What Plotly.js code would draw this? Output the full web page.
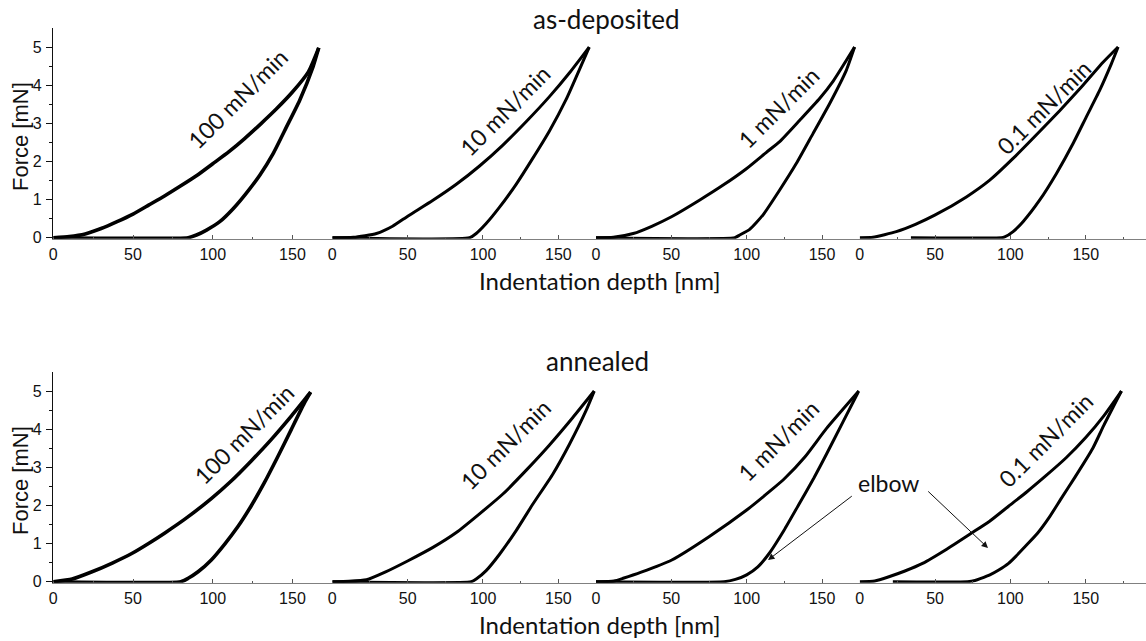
<!DOCTYPE html>
<html>
<head>
<meta charset="utf-8">
<script src="https://cdn.plot.ly/plotly-3.0.1.min.js"></script>
<style>html,body{margin:0;padding:0;background:#fff;}#chart{width:1146px;height:641px;}</style>
</head>
<body>
<div id="chart"></div>
<script>
// ---------- DATA (depth in nm, force in mN) ----------
const rowTitles = ['as-deposited', 'annealed'];
const rateLabels = ['100 mN/min', '10 mN/min', '1 mN/min', '0.1 mN/min'];
const xTickVals = [0, 50, 100, 150];
const yTickVals = [0, 1, 2, 3, 4, 5];

// as-deposited
const asdep100_loadDepth   = [0, 10, 20, 30, 40, 50, 60, 70, 80, 90, 100, 110, 120, 130, 140, 150, 160, 166.5];
const asdep100_loadForce   = [0, 0.03, 0.1, 0.24, 0.42, 0.62, 0.86, 1.1, 1.36, 1.63, 1.94, 2.25, 2.6, 2.98, 3.38, 3.82, 4.35, 4.98];
const asdep100_unloadDepth = [166.5, 162.9, 154.5, 146.2, 137.8, 129.5, 121.1, 112.8, 104.4, 96.1, 89.8, 84.6, 0];
const asdep100_unloadForce = [4.98, 4.48, 3.6, 2.9, 2.2, 1.64, 1.17, 0.76, 0.42, 0.2, 0.07, 0, 0];

const asdep10_loadDepth    = [0, 14, 29.3, 40, 50.3, 66.8, 82.3, 97.7, 113.2, 128.6, 144.1, 157.3, 170.5];
const asdep10_loadForce    = [0, 0.01, 0.11, 0.3, 0.57, 0.98, 1.4, 1.88, 2.43, 3.04, 3.7, 4.32, 5.0];
const asdep10_unloadDepth  = [170.5, 166.1, 155.1, 144.1, 133, 122, 111, 102.1, 95.5, 91.1, 0];
const asdep10_unloadForce  = [5.0, 4.6, 3.62, 2.8, 2.08, 1.4, 0.8, 0.37, 0.11, 0, 0];

const asdep1_loadDepth     = [0, 11.5, 24.7, 37, 50.1, 68.9, 84.4, 99.8, 113.1, 121.9, 135.2, 148.4, 157.3, 171.6];
const asdep1_loadForce     = [0, 0.01, 0.11, 0.3, 0.55, 0.99, 1.38, 1.81, 2.24, 2.52, 3.08, 3.65, 4.1, 5.0];
const asdep1_unloadDepth   = [171.6, 166.1, 155.1, 144, 133, 121.9, 110.9, 102, 95.4, 92.1, 0];
const asdep1_unloadForce   = [5.0, 4.39, 3.52, 2.73, 1.95, 1.25, 0.6, 0.22, 0.07, 0, 0];

const asdep01_loadDepth    = [0, 8.8, 24.3, 37, 49.8, 70.8, 86.3, 101.8, 117.3, 132.7, 148.2, 161.5, 171.5];
const asdep01_loadForce    = [0, 0.01, 0.16, 0.35, 0.59, 1.07, 1.51, 2.08, 2.7, 3.33, 4.0, 4.6, 5.0];
const asdep01_unloadDepth  = [171.5, 167, 159.3, 150.4, 141.6, 130.5, 119.5, 108.4, 101.8, 96.2, 94, 34];
const asdep01_unloadForce  = [5.0, 4.56, 3.87, 3.17, 2.47, 1.68, 0.99, 0.42, 0.16, 0.02, 0, 0];

// annealed
const ann100_loadDepth     = [0, 11.8, 24.3, 37, 49.2, 60, 70, 82.5, 99.1, 111.6, 124, 136.5, 149, 160.4, 161.4];
const ann100_loadForce     = [0, 0.07, 0.26, 0.49, 0.74, 1.01, 1.28, 1.64, 2.18, 2.64, 3.16, 3.72, 4.33, 4.92, 4.97];
const ann100_unloadDepth   = [161.4, 157.3, 149, 140.7, 132.3, 124, 115.7, 107.4, 99.1, 90.8, 84.6, 80, 0];
const ann100_unloadForce   = [4.97, 4.67, 3.97, 3.27, 2.59, 1.98, 1.44, 0.98, 0.57, 0.26, 0.09, 0, 0];

const ann10_loadDepth      = [0, 11, 22.7, 35, 50.3, 66.8, 82.3, 97.7, 113.2, 128.6, 144, 159.5, 173.8];
const ann10_loadForce      = [0, 0.01, 0.05, 0.25, 0.55, 0.9, 1.29, 1.78, 2.3, 2.92, 3.58, 4.3, 5.0];
const ann10_unloadDepth    = [173.8, 168.3, 157.3, 146.3, 133, 122, 111, 102.1, 95.5, 92.2, 0];
const ann10_unloadForce    = [5.0, 4.48, 3.6, 2.82, 2.03, 1.34, 0.72, 0.29, 0.07, 0, 0];

const ann1_loadDepth       = [0, 12, 18, 30, 50.3, 75, 100, 115, 125, 138.6, 153, 174.4];
const ann1_loadForce       = [0, 0.02, 0.09, 0.25, 0.57, 1.18, 1.88, 2.36, 2.7, 3.27, 4.02, 5.0];
const ann1_unloadDepth     = [174.4, 164, 153, 144.6, 134.7, 124.8, 114.9, 107.4, 100, 92.5, 85, 0];
const ann1_unloadForce     = [5.0, 4.2, 3.35, 2.72, 2.03, 1.35, 0.74, 0.39, 0.18, 0.06, 0, 0];

const ann01_loadDepth      = [0, 10, 19.4, 30, 41.7, 58, 74, 86, 98.8, 111, 123.6, 137, 150, 162, 173.7];
const ann01_loadForce      = [0, 0.02, 0.13, 0.28, 0.48, 0.86, 1.27, 1.58, 1.98, 2.36, 2.78, 3.25, 3.78, 4.35, 5.0];
const ann01_unloadDepth    = [173.7, 162, 154.7, 143, 134, 126, 118, 111.2, 104, 98.8, 92, 86.4, 80, 76.5, 71.5, 22];
const ann01_unloadForce    = [5.0, 4.1, 3.5, 2.75, 2.2, 1.7, 1.27, 0.98, 0.68, 0.48, 0.3, 0.18, 0.08, 0.03, 0, 0];

// ---------- LAYOUT ----------
const W = 1146, H = 641;
const px = p => p / W;
const py = p => 1 - p / H;

const panels = [
  [asdep100_loadDepth, asdep100_loadForce, asdep100_unloadDepth, asdep100_unloadForce],
  [asdep10_loadDepth, asdep10_loadForce, asdep10_unloadDepth, asdep10_unloadForce],
  [asdep1_loadDepth, asdep1_loadForce, asdep1_unloadDepth, asdep1_unloadForce],
  [asdep01_loadDepth, asdep01_loadForce, asdep01_unloadDepth, asdep01_unloadForce],
  [ann100_loadDepth, ann100_loadForce, ann100_unloadDepth, ann100_unloadForce],
  [ann10_loadDepth, ann10_loadForce, ann10_unloadDepth, ann10_unloadForce],
  [ann1_loadDepth, ann1_loadForce, ann1_unloadDepth, ann1_unloadForce],
  [ann01_loadDepth, ann01_loadForce, ann01_unloadDepth, ann01_unloadForce]
];

const colPx = [[53.3, 332.3], [332.3, 596], [596, 859.7], [859.7, 1146]];
const colRange = [[0, 175], [0, 175], [0, 175], [0, 190]];
const yMin = -0.03, yMax = 5.5;
const rowZeroPx = [237.7, 581.7];
const pxPerF = (237.7 - 28) / 5.5;

const tickFont = {family: 'Liberation Sans, Arial, sans-serif', size: 16, color: '#111'};
const textFont = {family: 'Lato, sans-serif', size: 24, color: '#111'};

const traces = [];
const layout = {
  width: W, height: H,
  margin: {l: 0, r: 0, t: 0, b: 0},
  paper_bgcolor: '#fff', plot_bgcolor: 'rgba(0,0,0,0)',
  showlegend: false,
  annotations: []
};

panels.forEach((p, i) => {
  const row = Math.floor(i / 4), col = i % 4;
  const n = i + 1;
  const xa = 'x' + (n === 1 ? '' : n), ya = 'y' + (n === 1 ? '' : n);
  const xKey = 'xaxis' + (n === 1 ? '' : n), yKey = 'yaxis' + (n === 1 ? '' : n);
  const w = col === 0 ? 3.6 : 3;
  [[p[0], p[1]], [p[2], p[3]]].forEach(([xs, ys]) => {
    traces.push({
      type: 'scatter', mode: 'lines', x: xs, y: ys, xaxis: xa, yaxis: ya,
      line: {color: '#000', width: w, shape: 'spline', smoothing: 0.5},
      hoverinfo: 'skip'
    });
  });
  const zero = rowZeroPx[row];
  const domBottomPx = zero - yMin * pxPerF;
  const domTopPx = zero - yMax * pxPerF;
  layout[xKey] = {
    domain: [px(colPx[col][0]), px(colPx[col][1])],
    range: colRange[col], anchor: ya,
    showline: true, linecolor: '#808080', linewidth: 1.5,
    ticks: 'inside', ticklen: 4, tickwidth: 1, tickcolor: '#555',
    tickmode: 'array', tickvals: xTickVals,
    minor: {tickmode: 'array', tickvals: [25, 75, 125, 175], ticks: 'inside', ticklen: 2, tickwidth: 1, tickcolor: '#555'},
    showgrid: false, zeroline: false, tickfont: tickFont, ticklabelstandoff: 0,
    fixedrange: true
  };
  layout[yKey] = {
    domain: [py(domBottomPx), py(domTopPx)],
    range: [yMin, yMax], anchor: xa,
    showgrid: false, zeroline: false, fixedrange: true
  };
  if (col === 0) {
    Object.assign(layout[yKey], {
      showline: true, linecolor: '#111', linewidth: 1.5,
      ticks: 'outside', ticklen: 6, tickwidth: 1, tickcolor: '#111',
      tickmode: 'array', tickvals: yTickVals,
      minor: {tickmode: 'array', tickvals: [0.5, 1.5, 2.5, 3.5, 4.5], ticks: 'outside', ticklen: 3, tickwidth: 1, tickcolor: '#111'},
      tickfont: tickFont, ticklabelstandoff: 1
    });
  } else {
    Object.assign(layout[yKey], {showline: false, showticklabels: false, ticks: ''});
  }
});

// text positions (pixels)
const rateLabelPx = [[237, 98.7], [505.3, 110.3], [778.7, 107], [1043.7, 107],
                     [243.7, 433.7], [505.3, 443.7], [778.7, 440.3], [1045.3, 440]];
rateLabelPx.forEach((pos, i) => {
  layout.annotations.push({
    text: rateLabels[i % 4], x: px(pos[0]), y: py(pos[1]), xref: 'paper', yref: 'paper',
    showarrow: false, textangle: -45, xanchor: 'center', yanchor: 'middle',
    font: {family: 'Lato, sans-serif', size: 23, color: '#111'}
  });
});

[[606, 19], [597, 361]].forEach((pos, r) => {
  layout.annotations.push({text: rowTitles[r], x: px(pos[0]), y: py(pos[1]), xref: 'paper', yref: 'paper',
    showarrow: false, xanchor: 'center', yanchor: 'middle', font: {family: 'Lato, sans-serif', size: 26, color: '#111'}});
});
[280, 624].forEach(yp => {
  layout.annotations.push({text: 'Indentation depth [nm]', x: px(600), y: py(yp), xref: 'paper', yref: 'paper',
    showarrow: false, xanchor: 'center', yanchor: 'middle', font: textFont});
});
[137, 481].forEach(yp => {
  layout.annotations.push({text: 'Force [mN]', x: px(20), y: py(yp), xref: 'paper', yref: 'paper',
    showarrow: false, textangle: -90, xanchor: 'center', yanchor: 'middle',
    font: {family: 'Liberation Sans, Arial, sans-serif', size: 22, color: '#111'}});
});

// elbow label and arrows
layout.annotations.push({text: 'elbow', x: px(888.3), y: py(482.7), xref: 'paper', yref: 'paper',
  showarrow: false, xanchor: 'center', yanchor: 'middle', font: {family: 'Lato, sans-serif', size: 23, color: '#111'}});
[[[768, 560], [853.3, 495]], [[988, 548], [926.7, 490]]].forEach(([head, tail]) => {
  layout.annotations.push({text: '', x: px(head[0]), y: py(head[1]), xref: 'paper', yref: 'paper',
    showarrow: true, arrowhead: 2, arrowsize: 1.3, arrowwidth: 1, arrowcolor: '#111',
    ax: tail[0] - head[0], ay: tail[1] - head[1], standoff: 0, startstandoff: 0});
});

Plotly.newPlot('chart', traces, layout, {staticPlot: true, displayModeBar: false});
</script>
</body>
</html>
